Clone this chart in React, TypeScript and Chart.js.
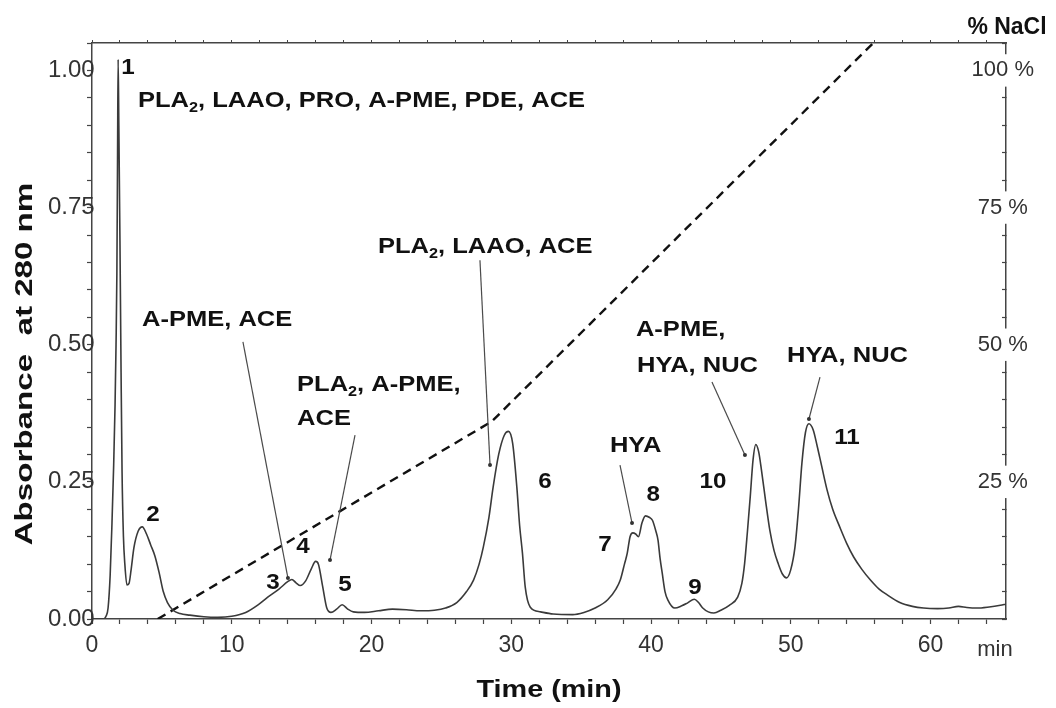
import React, { useEffect, useRef } from "react";
import { Chart, registerables } from "chart.js";

Chart.register(...registerables);

// ---- Data ----
const TIME = [
  0, 0.8, 1.0, 1.15, 1.3, 1.43, 1.55, 1.65, 1.72, 1.78, 1.83, 1.87, 1.92, 2.0, 2.08, 2.15, 2.25, 2.35, 2.5, 2.65,
  2.8, 3.0, 3.3, 3.6, 3.9, 4.2, 4.5, 4.8, 5.1, 5.4, 5.8, 6.3, 7, 8, 9, 10, 11, 12, 12.7, 13.4,
  14.0, 14.3, 14.6, 14.9, 15.3, 15.7, 16.0, 16.2, 16.5, 16.8, 17.1, 17.5, 17.9, 18.3, 18.7, 19.5, 20.5, 21.5, 22.5, 23.5,
  24.5, 25.3, 26.1, 26.8, 27.3, 27.7, 28.0, 28.4, 28.7, 29.1, 29.5, 29.8, 30.1, 30.4, 30.6, 30.8, 31.0, 31.35, 32.1, 33,
  34.4, 35.2, 36.0, 36.9, 37.5, 37.8, 38.1, 38.3, 38.5, 38.7, 38.9, 39.1, 39.35, 39.6, 39.9, 40.1, 40.35, 40.5, 40.65, 40.8,
  41.0, 41.2, 41.7, 42.2, 42.6, 43.1, 43.4, 43.7, 44.1, 44.5, 45, 45.6, 46.2, 46.5, 46.7, 46.9, 47.1, 47.3, 47.5, 47.7,
  47.9, 48.2, 48.5, 48.8, 49.1, 49.4, 49.7, 50.0, 50.3, 50.55, 50.8, 51.05, 51.3, 51.6, 51.9, 52.2, 52.6, 53.0, 53.5, 54.0,
  54.5, 55.1, 55.7, 56.3, 56.9, 57.8, 58.7, 59.5, 60.5, 61.3, 62.0, 62.6, 63.3, 64.2, 65.0, 65.4,
];
const ABSORBANCE = [
  0, 0, 0.005, 0.02, 0.08, 0.175, 0.28, 0.39, 0.5, 0.63, 0.85, 1.02, 0.9, 0.69, 0.45, 0.27, 0.15, 0.1, 0.062, 0.065,
  0.09, 0.13, 0.16, 0.168, 0.155, 0.135, 0.115, 0.085, 0.05, 0.03, 0.016, 0.01, 0.007, 0.004, 0.003, 0.005, 0.012, 0.028, 0.042, 0.055,
  0.068, 0.072, 0.066, 0.061, 0.07, 0.092, 0.105, 0.1, 0.06, 0.02, 0.012, 0.018, 0.026, 0.018, 0.013, 0.012, 0.015, 0.018, 0.017, 0.015,
  0.016, 0.02, 0.03, 0.05, 0.071, 0.1, 0.131, 0.185, 0.24, 0.3, 0.335, 0.342, 0.32, 0.24, 0.17, 0.12, 0.058, 0.022, 0.013, 0.009,
  0.008, 0.012, 0.02, 0.035, 0.055, 0.071, 0.1, 0.12, 0.15, 0.157, 0.155, 0.15, 0.175, 0.188, 0.185, 0.18, 0.16, 0.144, 0.11, 0.084,
  0.05, 0.035, 0.02, 0.024, 0.029, 0.036, 0.03, 0.02, 0.013, 0.011, 0.016, 0.025, 0.04, 0.065, 0.102, 0.16, 0.223, 0.29, 0.318, 0.305,
  0.272, 0.215, 0.162, 0.125, 0.101, 0.082, 0.075, 0.09, 0.131, 0.2, 0.285, 0.34, 0.356, 0.345, 0.314, 0.28, 0.235, 0.2, 0.168, 0.138,
  0.113, 0.09, 0.071, 0.055, 0.044, 0.03, 0.023, 0.02, 0.019, 0.02, 0.023, 0.021, 0.02, 0.022, 0.025, 0.027,
];
const NACL_TIME = [4.7, 28.6, 55.9];
const NACL_PERCENT = [0, 36, 105];

const X_TICK_LABELS = [0, 10, 20, 30, 40, 50, 60];
const Y_TICK_LABELS = [0, 0.25, 0.5, 0.75, 1.0];
const NACL_TICK_LABELS = [25, 50, 75, 100];

// Peak numbers (centred)
const PEAK_TEXT = ["1", "2", "3", "4", "5", "6", "7", "8", "9", "10", "11"];
const PEAK_T = [2.58, 4.36, 12.95, 15.1, 18.1, 32.41, 36.71, 40.15, 43.15, 44.43, 54.02];
const PEAK_V = [1.004, 0.19, 0.066, 0.131, 0.062, 0.25, 0.135, 0.226, 0.057, 0.25, 0.33];

// Enzyme notes (left-aligned); "_2" means subscript 2
const NOTE_TEXT = [
  "PLA_2, LAAO, PRO, A-PME, PDE, ACE",
  "A-PME, ACE",
  "PLA_2, A-PME,",
  "ACE",
  "PLA_2, LAAO, ACE",
  "HYA",
  "A-PME,",
  "HYA, NUC",
  "HYA, NUC",
];
const NOTE_T = [3.29, 3.58, 14.67, 14.67, 20.46, 37.06, 38.92, 39.0, 49.73];
const NOTE_V = [0.944, 0.545, 0.4265, 0.3646, 0.678, 0.3153, 0.5268, 0.4612, 0.4794];

// Leader lines: from (T1,V1) to (T2,V2)
const LEADER_T1 = [10.8, 18.82, 27.76, 37.78, 44.36, 52.09];
const LEADER_V1 = [0.505, 0.3354, 0.654, 0.2807, 0.432, 0.441];
const LEADER_T2 = [14.02, 17.03, 28.48, 38.64, 46.72, 51.3];
const LEADER_V2 = [0.0747, 0.1075, 0.2807, 0.175, 0.299, 0.3646];

const FONT = "'Liberation Sans', Arial, Helvetica, sans-serif";

function drawRich(
  ctx: CanvasRenderingContext2D,
  text: string,
  x: number,
  y: number,
  size: number,
  align: "left" | "center",
  sx: number,
  rotate = 0,
  weight = "bold",
  color = "#111"
) {
  const parts = text.split(/_(\d)/);
  const segs = parts.map((p, i) => ({ text: p, sub: i % 2 === 1, w: 0 }));
  ctx.save();
  ctx.translate(x, y);
  if (rotate) ctx.rotate(rotate);
  ctx.scale(sx, 1);
  let total = 0;
  for (const s of segs) {
    ctx.font = `${weight} ${s.sub ? Math.round(size * 0.62) : size}px ${FONT}`;
    s.w = ctx.measureText(s.text).width;
    total += s.w;
  }
  let cx = align === "center" ? -total / 2 : 0;
  ctx.textBaseline = "middle";
  ctx.textAlign = "left";
  ctx.fillStyle = color;
  for (const s of segs) {
    ctx.font = `${weight} ${s.sub ? Math.round(size * 0.62) : size}px ${FONT}`;
    ctx.fillText(s.text, cx, s.sub ? size * 0.32 : 0);
    cx += s.w;
  }
  ctx.restore();
}

const annotationPlugin = {
  id: "chromAnnotations",
  afterDatasetsDraw(chart: any) {
    const { ctx } = chart;
    const x = chart.scales.x;
    const y = chart.scales.y;
    ctx.save();
    // leader lines
    ctx.strokeStyle = "#4a4a4a";
    ctx.fillStyle = "#333";
    ctx.lineWidth = 1.2;
    for (let i = 0; i < LEADER_T1.length; i++) {
      const x1 = x.getPixelForValue(LEADER_T1[i]);
      const y1 = y.getPixelForValue(LEADER_V1[i]);
      const x2 = x.getPixelForValue(LEADER_T2[i]);
      const y2 = y.getPixelForValue(LEADER_V2[i]);
      ctx.beginPath();
      ctx.moveTo(x1, y1);
      ctx.lineTo(x2, y2);
      ctx.stroke();
      ctx.beginPath();
      ctx.arc(x2, y2, 2, 0, Math.PI * 2);
      ctx.fill();
    }
    // peak numbers
    for (let i = 0; i < PEAK_TEXT.length; i++) {
      drawRich(ctx, PEAK_TEXT[i], x.getPixelForValue(PEAK_T[i]), y.getPixelForValue(PEAK_V[i]), 22, "center", 1.1);
    }
    // notes
    for (let i = 0; i < NOTE_TEXT.length; i++) {
      drawRich(ctx, NOTE_TEXT[i], x.getPixelForValue(NOTE_T[i]), y.getPixelForValue(NOTE_V[i]), 22, "left", 1.16);
    }
    // axis titles and units
    const area = chart.chartArea;
    drawRich(ctx, "Time (min)", (area.left + area.right) / 2, 690, 24, "center", 1.2);
    drawRich(ctx, "Absorbance  at 280 nm", 25, 364, 24, "center", 1.38, -Math.PI / 2);
    drawRich(ctx, "% NaCl", 1007, 28, 23, "center", 1.0);
    drawRich(ctx, "min", 995, 650, 22, "center", 1.0, 0, "normal", "#333");
    ctx.restore();
  },
};

export default function App() {
  const canvasRef = useRef<HTMLCanvasElement | null>(null);

  useEffect(() => {
    const canvas = canvasRef.current;
    if (!canvas) return;
    const axisColor = "#444";
    const has = (arr: number[], v: number) => arr.some((a) => Math.abs(a - v) < 1e-6);

    const chart = new Chart(canvas, {
      type: "line",
      data: {
        datasets: [
          {
            label: "Absorbance at 280 nm",
            data: TIME.map((t, i) => ({ x: t, y: ABSORBANCE[i] })),
            borderColor: "#3a3a3a",
            borderWidth: 1.6,
            pointRadius: 0,
            cubicInterpolationMode: "monotone",
            xAxisID: "x",
            yAxisID: "y",
          },
          {
            label: "% NaCl",
            data: NACL_TIME.map((t, i) => ({ x: t, y: NACL_PERCENT[i] })),
            borderColor: "#111",
            borderWidth: 2.4,
            borderDash: [9, 6],
            pointRadius: 0,
            xAxisID: "x",
            yAxisID: "y2",
          },
        ] as any,
      },
      options: {
        animation: false,
        responsive: true,
        maintainAspectRatio: false,
        layout: { padding: { top: 43, left: 0, right: 0, bottom: 0 } },
        plugins: { legend: { display: false }, tooltip: { enabled: false } },
        scales: {
          x: {
            type: "linear",
            position: "bottom",
            min: 0,
            max: 65.4,
            afterFit: (s: any) => {
              s.height = 89;
            },
            grid: { drawOnChartArea: false, tickLength: 5, color: axisColor, tickColor: axisColor, tickWidth: 1.2 },
            border: { color: axisColor, width: 1.5 },
            ticks: {
              stepSize: 2,
              autoSkip: false,
              includeBounds: false,
              maxRotation: 0,
              padding: 8,
              color: "#333",
              font: { family: FONT, size: 23 },
              callback: (v: any) => (has(X_TICK_LABELS, Number(v)) ? String(Math.round(Number(v))) : ""),
            },
          },
          x2: {
            type: "linear",
            position: "top",
            min: 0,
            max: 65.4,
            afterFit: (s: any) => {
              s.height = 0;
            },
            grid: { drawOnChartArea: false, tickLength: 3, color: axisColor, tickColor: axisColor },
            border: { color: axisColor, width: 1.5 },
            ticks: { display: false, stepSize: 2, includeBounds: false },
          },
          y: {
            type: "linear",
            position: "left",
            min: 0,
            max: 1.05,
            afterFit: (s: any) => {
              s.width = 92;
            },
            grid: { drawOnChartArea: false, tickLength: 5, color: axisColor, tickColor: axisColor, tickWidth: 1.2 },
            border: { color: axisColor, width: 1.5 },
            ticks: {
              stepSize: 0.05,
              autoSkip: false,
              includeBounds: false,
              mirror: true,
              crossAlign: "near",
              padding: -44,
              color: "#333",
              font: { family: FONT, size: 24 },
              callback: (v: any) => (has(Y_TICK_LABELS, Number(v)) ? Number(v).toFixed(2) : ""),
            },
          },
          y2: {
            type: "linear",
            position: "right",
            min: 0,
            max: 105,
            afterFit: (s: any) => {
              s.width = 50;
            },
            grid: { drawOnChartArea: false, tickLength: -4, color: axisColor, tickColor: axisColor, tickWidth: 1.2 },
            border: { color: axisColor, width: 1.5 },
            ticks: {
              stepSize: 5,
              autoSkip: false,
              includeBounds: false,
              mirror: true,
              crossAlign: "center",
              padding: 28,
              color: "#333",
              font: { family: FONT, size: 22 },
              showLabelBackdrop: (c: any) => has(NACL_TICK_LABELS, c.tick?.value),
              backdropColor: "#ffffff",
              backdropPadding: 3,
              callback: (v: any) => (has(NACL_TICK_LABELS, Number(v)) ? `${Math.round(Number(v))} %` : ""),
            },
          },
        },
      } as any,
      plugins: [annotationPlugin],
    });
    return () => chart.destroy();
  }, []);

  return (
    <div style={{ position: "absolute", left: 0, top: 0, width: 1056, height: 708, background: "#fff" }}>
      <canvas ref={canvasRef} />
    </div>
  );
}
